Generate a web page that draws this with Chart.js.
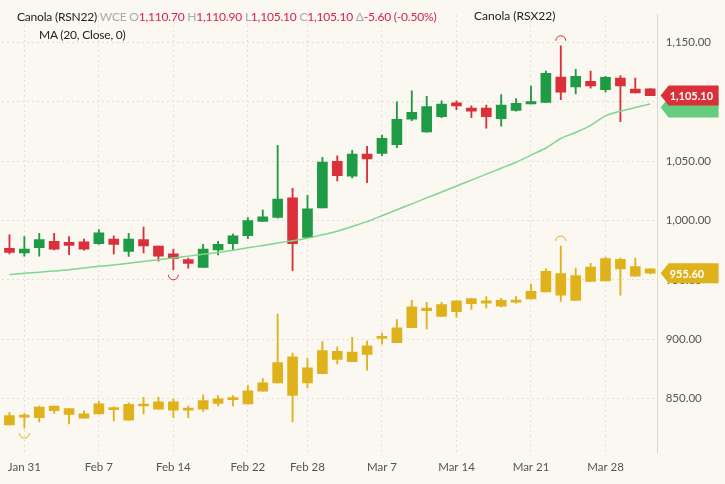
<!DOCTYPE html>
<html>
<head>
<meta charset="utf-8">
<script src="https://cdn.jsdelivr.net/npm/chart.js@4"></script>
<style>
  body { margin: 0; background: #fbf7f1; font-family: Lato, sans-serif; }
  #wrap { position: relative; width: 725px; height: 484px; }
  #legend { position: absolute; left: 17px; top: 8px; font-size: 12px; color: #222; line-height: 18px; letter-spacing: -0.2px; }
  #legend .g { color: #aaa; }
  #legend .r { color: #d6234a; }
  #legend2 { position: absolute; left: 474px; top: 8px; font-size: 12px; color: #222; }
</style>
</head>
<body>
<div id="wrap">
  <canvas id="chart" width="725" height="484"></canvas>
  <div id="legend">Canola (RSN22) <span class="g">WCE</span> <span class="g">O</span><span class="r">1,110.70</span> <span class="g">H</span><span class="r">1,110.90</span> <span class="g">L</span><span class="r">1,105.10</span> <span class="g">C</span><span class="r">1,105.10</span> <span class="g">Δ</span><span class="r">-5.60 (-0.50%)</span><br><span style="margin-left:22px">MA (20, Close, 0)</span></div>
  <div id="legend2">Canola (RSX22)</div>
</div>
<script>
const dates = ['Jan 28','Jan 31','Feb 1','Feb 2','Feb 3','Feb 4','Feb 7','Feb 8','Feb 9','Feb 10','Feb 11',
  'Feb 14','Feb 15','Feb 16','Feb 17','Feb 18','Feb 22','Feb 23','Feb 24','Feb 25','Feb 28','Mar 1','Mar 2',
  'Mar 3','Mar 4','Mar 7','Mar 8','Mar 9','Mar 10','Mar 11','Mar 14','Mar 15','Mar 16','Mar 17','Mar 18',
  'Mar 21','Mar 22','Mar 23','Mar 24','Mar 25','Mar 28','Mar 29','Mar 30','Mar 31'];
const shownTicks = ['Jan 31','Feb 7','Feb 14','Feb 22','Feb 28','Mar 7','Mar 14','Mar 21','Mar 28'];

// RSN22
const nOpen  = [976.6,972.7,977.2,982.5,981.7,982,980.4,984.4,974,983.9,978.5,971.9,967,960.4,975.3,980.4,987.3,999.3,1002.5,1019,985.7,1010.5,1049.7,1037.2,1055.9,1056.4,1063.9,1085.2,1074.5,1087.3,1099,1094.5,1094.5,1085.7,1092.7,1098,1099.3,1120.7,1112.4,1117.2,1110,1119.9,1110.5,1110.7];
const nHigh  = [987.9,986.5,989.2,989.2,986.5,984.4,992.4,987.1,989.2,994.5,978.5,975.9,968.4,979.9,982.5,988.6,1002.5,1008.7,1063.3,1027,1021.2,1053.2,1054.5,1059,1062.5,1071.9,1099.9,1109.2,1104.4,1100.7,1100.7,1096.4,1097.2,1106,1102.5,1113.2,1125.7,1147,1127.3,1125.7,1121.2,1122,1119.9,1110.9];
const nLow   = [971.9,970,970,975.3,971.3,975,979.9,971.9,969.7,972.7,965.7,958.5,959.8,960.4,971,975,984.6,999.3,1002,957.7,985.7,1010.5,1033.2,1035.9,1031.9,1054.5,1061.2,1083.9,1074,1086.5,1093.2,1086.5,1077.7,1079.3,1091.9,1098,1099.3,1101.7,1106.5,1111.3,1107.9,1083.1,1107.3,1105.1];
const nClose = [973.2,975.9,983.9,975.9,979,975.9,989.7,979.9,984.4,978.5,970,967.9,963.9,975.9,979.9,987.1,999.9,1003,1018,980.4,1009.7,1049.2,1037.7,1055.9,1051.9,1069.2,1085.2,1091.1,1095.9,1098,1096.4,1091.9,1087.3,1097.2,1098.5,1100.1,1123.9,1107.9,1121.2,1113.2,1120.4,1113.2,1107.3,1105.1];
const ma20   = [954.6,955.5,956.5,957.5,958.5,960,961.5,962.5,964,965.5,967,968.5,970,971.5,973,975,977,979,981,983,985,988,991,995,999,1004,1009,1014,1019,1024,1029,1034,1039,1044,1049,1055,1061,1069,1074,1080,1088,1092,1095,1098];

// RSX22
const xOpen  = [835.9,834.5,834,843.9,841.7,833.7,837.2,842.5,831.9,843.9,841.2,847.3,841.7,841.2,846,849.2,845.7,856.4,863.3,885.2,863.3,871,883,881.2,887.3,900.7,897.2,909.7,926.3,919.3,923.3,934.3,932.4,927.9,931.3,934,939.9,955.3,932.7,948.7,949.2,967.3,961.2,959.3];
const xHigh  = [838.5,837.7,843.9,843.9,841.7,839.9,847.9,843.1,846.5,851.1,851.1,850,843.9,853.2,852.7,852.7,861.2,867,921.2,888.4,883.9,898,893.7,901.7,898.5,905.2,916.7,932.7,931.1,931.1,932.4,934.3,935.9,934.5,935.9,946.5,959.3,978.5,959.9,963.9,969.2,968.4,968.4,959.3];
const xLow   = [827.9,825.2,830.5,837.7,828.7,833.7,837.2,831.3,831.9,837.2,841.2,834,834,839.3,843.9,843.9,845.7,856.4,863.3,830.5,859,871,879.3,881.2,874,895.9,897.2,909.7,908.7,919.3,918.5,925.2,926.5,927.3,930.5,934,939.9,931.9,932.7,948.7,949.2,937.2,953.2,955];
const xClose = [827.9,835.9,843,839.9,836.7,837.2,845.7,840.7,845.2,845.2,847.3,840.4,840.4,848.4,850,850.5,856.7,863.3,880.4,852.7,875.9,890.5,889.9,889.2,894.5,902.5,909.7,927.3,924.1,929.2,932.4,930,930.5,932.7,932.7,940.4,957.2,937.2,953.7,960.7,967.9,959.3,953.2,955.6];

const upCol = '#1f9a45', downCol = '#d9303a', gold = '#dfb21c';
const nCol = nOpen.map((o, i) => nClose[i] >= o ? upCol : downCol);
const pair = (a, b) => a.map((v, i) => [Math.min(v, b[i]), Math.max(v, b[i])]);

// price tags on the right and min/max arcs
const overlay = {
  id: 'overlay',
  afterDatasetsDraw(chart) {
    const c = chart.ctx, y = chart.scales.y, x = chart.scales.x, area = chart.chartArea;
    const arc = (i, v, above, col) => {
      const px = x.getPixelForValue(i), py = y.getPixelForValue(v) + (above ? -5 : 5);
      c.beginPath(); c.strokeStyle = col; c.lineWidth = 1;
      c.arc(px, py, 5, above ? Math.PI : 0, above ? 2 * Math.PI : Math.PI);
      c.stroke();
    };
    arc(11, nLow[11], false, downCol);
    arc(37, nHigh[37], true, downCol);
    arc(1, xLow[1], false, gold);
    arc(37, xHigh[37], true, gold);
    const tag = (v, col, txt) => {
      const py = y.getPixelForValue(v), x0 = area.right + 3;
      c.fillStyle = col; c.beginPath();
      c.moveTo(x0, py); c.lineTo(x0 + 8, py - 10); c.lineTo(x0 + 58, py - 10);
      c.lineTo(x0 + 58, py + 10); c.lineTo(x0 + 8, py + 10); c.closePath(); c.fill();
      if (txt) {
        c.fillStyle = '#fff'; c.font = 'bold 11px Lato'; c.textBaseline = 'middle'; c.textAlign = 'left';
        c.fillText(txt, x0 + 9, py + 1);
      }
    };
    tag(ma20[43] - 3, '#66cc7e', '');
    tag(nClose[43], downCol, '1,105.10');
    tag(xClose[43], gold, '955.60');
  }
};

new Chart(document.getElementById('chart'), {
  type: 'bar',
  data: {
    labels: dates,
    datasets: [
      { type: 'line', data: ma20, borderColor: '#7fd68f', borderWidth: 1.5, pointRadius: 0, tension: 0.3, order: 0 },
      { data: pair(nLow, nHigh), backgroundColor: nCol, barThickness: 1.2, order: 2 },
      { data: pair(nOpen, nClose), backgroundColor: nCol, barThickness: 10, minBarLength: 2, order: 1 },
      { data: pair(xLow, xHigh), backgroundColor: gold, barThickness: 1.2, order: 2 },
      { data: pair(xOpen, xClose), backgroundColor: gold, barThickness: 10, minBarLength: 2, order: 1 }
    ]
  },
  options: {
    responsive: false,
    animation: false,
    datasets: { bar: { grouped: false } },
    layout: { padding: { top: 0, right: 6, left: 2, bottom: 2 } },
    plugins: { legend: { display: false }, tooltip: { enabled: false } },
    scales: {
      x: {
        grid: {
          offset: false, drawTicks: false,
          color: ctx => shownTicks.includes(dates[ctx.index]) ? '#e3ded6' : 'rgba(0,0,0,0)'
        },
        border: { display: false, dash: [2, 3] },
        ticks: {
          autoSkip: false, maxRotation: 0, color: '#555', font: { family: 'Lato', size: 11.5 }, padding: 8,
          callback: (v, i) => shownTicks.includes(dates[i]) ? dates[i] : ''
        }
      },
      y: {
        position: 'right', min: 805, max: 1173,
        afterBuildTicks: s => { s.ticks = s.ticks.filter(t => t.value % 50 === 0); },
        ticks: {
          stepSize: 50, color: '#555', font: { family: 'Lato', size: 11.5 }, padding: 8,
          callback: v => v.toLocaleString('en-US', { minimumFractionDigits: 2 })
        },
        grid: { color: '#e3ded6', drawTicks: false },
        border: { color: '#ddd8d0', dash: [2, 3] }
      }
    }
  },
  plugins: [overlay]
});
</script>
</body>
</html>
